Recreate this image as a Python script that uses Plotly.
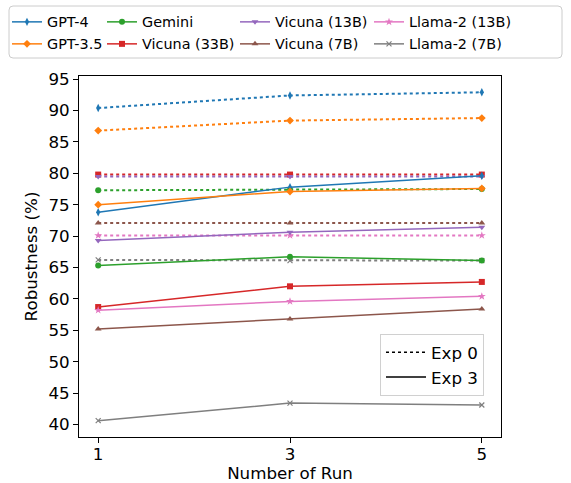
import plotly.graph_objects as go

runs = [1, 3, 5]
models = ["GPT-4", "GPT-3.5", "Gemini", "Vicuna (33B)", "Vicuna (13B)", "Vicuna (7B)", "Llama-2 (13B)", "Llama-2 (7B)"]
colors = ["#1f77b4", "#ff7f0e", "#2ca02c", "#d62728", "#9467bd", "#8c564b", "#e377c2", "#7f7f7f"]
symbols = ["diamond-tall", "diamond", "circle", "square", "triangle-down", "triangle-up", "star", "x-thin"]

exp0_gpt4 = [90.4, 92.4, 92.9]
exp0_gpt35 = [86.8, 88.4, 88.8]
exp0_gemini = [77.3, 77.4, 77.5]
exp0_vicuna33 = [79.8, 79.8, 79.8]
exp0_vicuna13 = [79.5, 79.5, 79.5]
exp0_vicuna7 = [72.1, 72.1, 72.1]
exp0_llama13 = [70.1, 70.1, 70.1]
exp0_llama7 = [66.2, 66.1, 66.1]

exp3_gpt4 = [73.8, 77.8, 79.6]
exp3_gpt35 = [75.0, 77.1, 77.6]
exp3_gemini = [65.3, 66.7, 66.1]
exp3_vicuna33 = [58.7, 62.0, 62.7]
exp3_vicuna13 = [69.3, 70.6, 71.4]
exp3_vicuna7 = [55.2, 56.8, 58.4]
exp3_llama13 = [58.2, 59.6, 60.4]
exp3_llama7 = [40.6, 43.4, 43.1]

exp0 = [exp0_gpt4, exp0_gpt35, exp0_gemini, exp0_vicuna33, exp0_vicuna13, exp0_vicuna7, exp0_llama13, exp0_llama7]
exp3 = [exp3_gpt4, exp3_gpt35, exp3_gemini, exp3_vicuna33, exp3_vicuna13, exp3_vicuna7, exp3_llama13, exp3_llama7]

W, H = 571, 483
L, R, T, B = 79, 501, 76, 437
pw, ph = R - L, B - T

def px2x(px):
    return (px - L) / pw

def py2y(py):
    return (B - py) / ph

fig = go.Figure()

def marker(i):
    m = dict(symbol=symbols[i], color=colors[i], size=6)
    if symbols[i] == "x-thin":
        m["line"] = dict(color=colors[i], width=1.2)
        m["size"] = 5
    return m

for i, name in enumerate(models):
    fig.add_trace(go.Scatter(x=runs, y=exp0[i], mode="lines+markers", showlegend=False,
                             line=dict(color=colors[i], width=2, dash="dot"), marker=marker(i)))

col_px = [15, 110, 243, 377]
row_py = [22, 44]
for i, name in enumerate(models):
    col, row = i // 2, i % 2
    lname = "legend" if i == 0 else f"legend{i + 1}"
    fig.add_trace(go.Scatter(x=runs, y=exp3[i], mode="lines+markers", name=name,
                             line=dict(color=colors[i], width=1.5), marker=marker(i),
                             legend=lname))
    fig.update_layout(**{lname: dict(x=px2x(col_px[col] - 8), y=py2y(row_py[row]),
                                     xanchor="left", yanchor="middle", bgcolor="rgba(0,0,0,0)",
                                     font=dict(family="DejaVu Sans", size=14.4, color="black"),
                                     borderwidth=0)})

fig.add_trace(go.Scatter(x=[None], y=[None], mode="lines", name="Exp 0",
                         line=dict(color="black", width=1.5, dash="dot"), legend="legend9"))
fig.add_trace(go.Scatter(x=[None], y=[None], mode="lines", name="Exp 3",
                         line=dict(color="black", width=1.5), legend="legend9"))

fig.update_layout(legend9=dict(x=px2x(484), y=py2y(396), xanchor="right", yanchor="bottom",
                               bgcolor="rgba(255,255,255,0.8)", bordercolor="#d0d0d0", borderwidth=1,
                               itemwidth=40,
                               font=dict(family="DejaVu Sans", size=16.7, color="black")))

x0, x1, y0, y1, r = px2x(9), px2x(562), py2y(6), py2y(58), 4
rx, ry = r / pw, r / ph
path = (f"M {x0 + rx},{y0} L {x1 - rx},{y0} Q {x1},{y0} {x1},{y0 - ry} "
        f"L {x1},{y1 + ry} Q {x1},{y1} {x1 - rx},{y1} L {x0 + rx},{y1} Q {x0},{y1} {x0},{y1 + ry} "
        f"L {x0},{y0 - ry} Q {x0},{y0} {x0 + rx},{y0} Z")
fig.add_shape(type="path", path=path, xref="paper", yref="paper",
              line=dict(color="#cccccc", width=1), fillcolor="rgba(0,0,0,0)", layer="above")

axis_common = dict(showline=True, mirror=True, linecolor="black", linewidth=1, ticks="outside",
                   ticklen=5, tickcolor="black", showgrid=False, zeroline=False,
                   tickfont=dict(family="DejaVu Sans", size=16.7, color="black"))

fig.update_xaxes(range=[0.8, 5.2], tickvals=runs, ticktext=[str(v) for v in runs],
                 title=dict(text="Number of Run", font=dict(family="DejaVu Sans", size=16.7, color="black"), standoff=6),
                 **axis_common)
fig.update_yaxes(range=[38.0, 95.5], tickvals=list(range(40, 96, 5)),
                 title=dict(text="Robustness (%)", font=dict(family="DejaVu Sans", size=16.7, color="black"), standoff=6),
                 **axis_common)
try:
    fig.update_xaxes(ticklabelstandoff=-3)
except Exception:
    pass

fig.update_layout(width=W, height=H, margin=dict(l=L, r=W - R, t=T, b=H - B, autoexpand=False),
                  plot_bgcolor="white", paper_bgcolor="white",
                  font=dict(family="DejaVu Sans", color="black"))

fig.write_html("out.html", config={"displayModeBar": False},
               post_script="document.body.style.margin='0px';document.body.style.overflow='hidden';")
